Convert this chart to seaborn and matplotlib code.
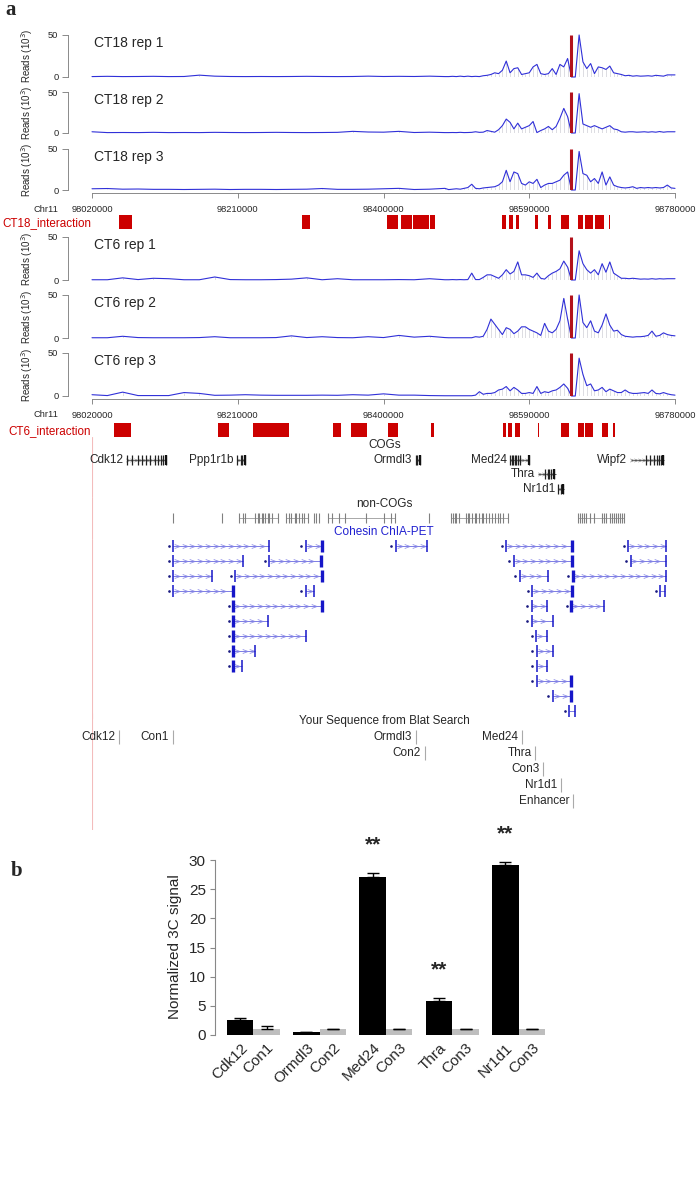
import numpy as np
import pandas as pd
import matplotlib
matplotlib.use("Agg")
import matplotlib.pyplot as plt
import seaborn as sns

W, H = 697, 1188

# ---------------- data ----------------
# bins (kb on chr11) of the read tracks
bin_kb = [98020, 98040, 98060, 98080, 98100, 98120, 98140, 98160, 98180, 98200,
          98220, 98240, 98260, 98280, 98300, 98320, 98340, 98360, 98380, 98400,
          98420, 98440, 98460, 98480,
          98485, 98490, 98495, 98500, 98505, 98510, 98515, 98520, 98525, 98530,
          98535, 98540, 98545, 98550, 98555, 98560, 98565, 98570, 98575, 98580,
          98585, 98590, 98595, 98600, 98605, 98610, 98615, 98620, 98625, 98630,
          98635, 98640, 98645, 98650, 98655, 98660, 98665, 98670, 98675, 98680,
          98685, 98690, 98695, 98700, 98705, 98710, 98715, 98720, 98725, 98730,
          98735, 98740, 98745, 98750, 98755, 98760, 98765, 98770, 98775, 98780]

ct18_rep1 = [0.5, 0.8, 0.5, 0.6, 0.8, 0.5, 0.6, 2.2, 1.0, 0.6, 0.5, 0.6, 0.5, 0.6, 0.8, 0.6,
             0.5, 0.6, 1.0, 0.6, 0.8, 0.6, 1.0, 0.5,
             0.5, 0.8, 0.5, 1.0, 0.5, 1.0, 0.5, 0.8, 0.5, 1.5, 2.0, 3.0, 5.0, 4.0, 8.0,
             19.0, 5.0, 10.0, 11.0, 3.0, 4.0, 5.0, 12.0, 15.0, 4.0, 3.0, 4.0, 10.0, 3.0,
             15.0, 12.0, 22.0, 0.0, 0.0, 50.0, 18.0, 10.0, 16.0, 4.0, 12.0, 11.0, 9.0,
             13.0, 5.0, 4.0, 3.0, 1.5, 2.0, 1.0, 1.5, 1.0, 1.2, 1.5, 1.0, 2.0, 1.5, 1.0,
             2.5, 2.5, 2.5]
ct18_rep2 = [1.5, 0.5, 0.6, 0.5, 0.8, 0.5, 0.6, 0.5, 0.8, 0.6, 0.5, 0.6, 0.8, 0.6, 0.5, 0.6,
             0.8, 2.0, 1.2, 1.0, 2.0, 0.6, 1.0, 0.5,
             0.5, 0.6, 0.5, 0.8, 0.5, 0.6, 0.8, 1.5, 0.8, 1.0, 3.0, 2.0, 1.0, 4.0, 9.0,
             17.0, 13.0, 5.0, 12.0, 5.0, 7.0, 9.0, 14.0, 0.5, 3.0, 5.0, 8.0, 4.0, 8.0,
             18.0, 30.0, 20.0, 0.0, 0.0, 48.0, 11.0, 9.0, 7.0, 9.0, 7.0, 5.0, 7.0, 9.0,
             5.0, 4.0, 1.5, 1.0, 1.5, 1.5, 1.0, 1.2, 1.5, 1.0, 1.5, 1.0, 1.8, 1.0, 1.5,
             1.5, 1.5]
ct18_rep3 = [1.5, 1.8, 1.0, 1.2, 0.8, 0.8, 0.6, 0.8, 1.0, 0.6, 0.8, 0.8, 0.6, 0.8, 1.0, 1.8,
             0.8, 0.8, 1.0, 1.5, 2.0, 0.6, 1.0, 2.0,
             0.5, 1.0, 1.5, 1.0, 2.0, 3.0, 7.0, 2.0, 1.5, 2.5, 3.0, 3.5, 4.0, 6.0, 10.0,
             24.0, 10.0, 22.0, 20.0, 8.0, 6.0, 10.0, 8.0, 13.0, 3.0, 6.0, 8.0, 8.0, 10.0,
             12.0, 18.0, 22.0, 0.0, 0.0, 47.0, 20.0, 18.0, 10.0, 14.0, 8.0, 22.0, 6.0,
             16.0, 6.0, 4.0, 3.0, 2.5, 3.0, 4.0, 2.0, 3.0, 2.5, 3.0, 2.5, 3.0, 2.5, 3.0,
             6.0, 2.5, 2.0]
ct6_rep1 = [0.3, 0.3, 2.5, 0.5, 2.0, 1.5, 0.3, 0.3, 3.5, 0.5, 0.3, 0.3, 0.5, 1.0, 2.5, 0.3,
            1.5, 0.3, 0.3, 0.3, 0.5, 0.3, 1.5, 0.3,
            0.3, 0.5, 0.3, 0.5, 0.3, 0.5, 8.0, 0.5, 0.5, 3.0, 6.0, 6.0, 4.0, 2.0, 6.0,
            12.0, 7.0, 10.0, 21.0, 6.0, 6.0, 5.0, 3.0, 8.0, 2.0, 1.0, 5.0, 8.0, 10.0,
            13.0, 22.0, 15.0, 0.0, 0.0, 34.0, 19.0, 12.0, 8.0, 12.0, 6.0, 19.0, 9.0,
            21.0, 8.0, 5.0, 2.0, 2.0, 1.5, 2.0, 1.5, 1.0, 1.2, 1.0, 1.5, 1.0, 1.5, 1.2,
            1.5, 1.5, 1.5]
ct6_rep2 = [0.3, 0.3, 2.0, 0.5, 0.3, 0.3, 0.3, 0.5, 1.5, 0.3, 0.3, 0.3, 0.5, 2.5, 0.5, 1.5,
            0.5, 0.3, 1.5, 0.5, 3.0, 1.0, 2.0, 0.5,
            0.3, 0.3, 0.3, 0.3, 0.3, 0.3, 0.3, 1.5, 1.0, 2.0, 10.0, 22.0, 16.0, 10.0, 4.0,
            12.0, 10.0, 5.0, 8.0, 13.0, 13.0, 10.0, 8.0, 6.0, 3.0, 17.0, 8.0, 6.0, 10.0,
            20.0, 46.0, 22.0, 0.0, 0.0, 50.0, 18.0, 12.0, 20.0, 8.0, 6.0, 15.0, 28.0,
            15.0, 8.0, 9.0, 4.0, 2.0, 1.5, 1.0, 1.5, 1.5, 2.0, 3.0, 8.0, 2.0, 3.0, 6.0,
            4.0, 3.0, 2.5]
ct6_rep3 = [1.5, 0.5, 4.5, 0.5, 0.5, 0.5, 4.0, 3.0, 0.8, 1.0, 1.5, 1.0, 0.8, 0.8, 0.8, 1.0,
            0.8, 1.5, 1.0, 2.5, 1.0, 1.0, 0.5, 0.3,
            0.3, 0.3, 0.3, 0.3, 0.3, 0.3, 0.3, 1.0, 5.0, 2.0, 3.0, 3.0, 4.0, 7.0, 8.0,
            11.0, 6.0, 10.0, 7.0, 3.0, 3.0, 4.0, 3.0, 11.0, 3.0, 5.0, 4.0, 6.0, 7.0,
            10.0, 14.0, 9.0, 0.0, 0.0, 44.0, 25.0, 12.0, 14.0, 6.0, 7.0, 10.0, 5.0,
            8.0, 6.0, 4.0, 4.0, 7.0, 4.0, 3.0, 3.0, 3.5, 4.0, 3.0, 7.0, 3.0, 2.5, 4.0,
            2.5, 1.5, 1.0]

bait_kb = 98645
axis_ticks_kb = [98020, 98210, 98400, 98590, 98780]

ct18_blocks = [(98055, 98072), (98294, 98304), (98404, 98419), (98423, 98437),
               (98438, 98447), (98448, 98459), (98460, 98467), (98555, 98560),
               (98563, 98569), (98573, 98577), (98598, 98602), (98615, 98619),
               (98632, 98642), (98654, 98660), (98663, 98673), (98676, 98688),
               (98694, 98695)]
ct6_blocks = [(98049, 98071), (98184, 98198), (98230, 98277), (98334, 98345),
              (98358, 98378), (98406, 98419), (98462, 98466), (98556, 98560),
              (98562, 98567), (98572, 98578), (98602, 98603), (98632, 98642),
              (98654, 98662), (98663, 98673), (98685, 98693), (98699, 98702)]

# COG genes: name, row, start, end, exons (kb)
cog_names = ["Cdk12", "Ppp1r1b", "Ormdl3", "Med24", "Thra", "Nr1d1", "Wipf2"]
cog_rows = [0, 0, 0, 0, 1, 2, 0]
cog_start = [98065, 98209, 98442, 98565, 98602, 98628, 98722]
cog_end = [98116, 98220, 98447, 98590, 98625, 98635, 98766]
cog_exons = [[98065, 98072, 98080, 98085, 98091, 98095, 98102, 98106, 98110, 98113, 98116],
             [98209, 98214, 98216, 98220],
             [98442, 98444, 98447],
             [98565, 98567, 98569, 98571, 98573, 98575, 98578, 98590],
             [98610, 98614, 98616, 98619, 98622],
             [98628, 98631, 98634],
             [98742, 98747, 98753, 98756, 98759, 98762, 98765]]

noncog_segments = [(98212, 98262), (98273, 98301), (98328, 98415), (98488, 98562),
                   (98654, 98713)]
noncog_exons = [98125, 98189, 98212, 98217, 98220, 98233, 98236, 98238, 98241, 98243,
                98246, 98249, 98251, 98255, 98262, 98273, 98277, 98280, 98284, 98286,
                98290, 98294, 98297, 98301, 98310, 98312, 98316, 98328, 98333, 98342,
                98350, 98377, 98401, 98410, 98415, 98459, 98488, 98490, 98493, 98495,
                98498, 98507, 98510, 98512, 98515, 98519, 98521, 98524, 98528, 98530,
                98534, 98537, 98542, 98546, 98549, 98552, 98556, 98562, 98654, 98656,
                98659, 98662, 98664, 98669, 98675, 98685, 98688, 98690, 98695, 98698,
                98700, 98703, 98706, 98708, 98711, 98713]

# Cohesin ChIA-PET links
chia_row = [0, 0, 0, 0, 0, 1, 1, 1, 1, 2, 2, 2, 2, 3, 3, 3, 3, 4, 4, 4,
            5, 5, 6, 6, 7, 7, 8, 8, 9, 10, 11]
chia_start = [98126, 98299, 98416, 98560, 98719, 98126, 98251, 98570, 98722,
              98126, 98207, 98578, 98647, 98126, 98299, 98594, 98761,
              98204, 98593, 98645, 98204, 98593, 98204, 98599, 98204, 98600,
              98204, 98600, 98600, 98621, 98642]
chia_end = [98251, 98320, 98457, 98646, 98768, 98217, 98318, 98646, 98768,
            98177, 98320, 98615, 98768, 98204, 98309, 98646, 98767,
            98320, 98613, 98687, 98250, 98621, 98299, 98613, 98233, 98621,
            98216, 98613, 98645, 98645, 98650]
chia_hubs = [98204, 98320, 98646]

blat_names = ["Cdk12", "Con1", "Ormdl3", "Con2", "Med24", "Thra", "Con3", "Nr1d1", "Enhancer"]
blat_kb = [98055, 98125, 98442, 98454, 98580, 98598, 98608, 98632, 98647]
blat_rows = [0, 0, 0, 1, 0, 1, 2, 3, 4]

# panel b: normalized 3C signal
pair_targets = ["Cdk12", "Ormdl3", "Med24", "Thra", "Nr1d1"]
pair_controls = ["Con1", "Con2", "Con3", "Con3", "Con3"]
target_signal = [2.6, 0.45, 27.15, 5.9, 29.1]
target_err = [0.4, 0.1, 0.65, 0.4, 0.5]
control_signal = [1.0, 1.0, 1.0, 1.0, 1.0]
control_err = [0.5, 0.08, 0.06, 0.06, 0.06]
stars = ["", "", "**", "**", "**"]

# ---------------- drawing ----------------
sns.set_theme(style="ticks")
plt.rcParams["font.family"] = ["Liberation Sans", "DejaVu Sans"]

fig = plt.figure(figsize=(W / 100, H / 100), dpi=100)

X0, X1 = 92, 675
KB = (98020, 98780)
BLUE = "#3030d8"
RED = "#cc0000"


def add_ax(left, top, width, height):
    return fig.add_axes([left / W, 1 - (top + height) / H, width / W, height / H])


def fig_text(x, y, s, **kw):
    fig.text(x / W, 1 - y / H, s, **kw)


fig_text(5, 15, "a", fontfamily="Liberation Serif", fontweight="bold", fontsize=15,
         va="baseline")

tracks = [("CT18 rep 1", ct18_rep1, 35, 77, False),
          ("CT18 rep 2", ct18_rep2, 92, 133, False),
          ("CT18 rep 3", ct18_rep3, 149, 190, True),
          ("CT6 rep 1", ct6_rep1, 237, 280, False),
          ("CT6 rep 2", ct6_rep2, 295, 338, False),
          ("CT6 rep 3", ct6_rep3, 353, 396, True)]

for name, vals, ytop, ybot, show_x in tracks:
    ax = add_ax(X0, ytop, X1 - X0, ybot - ytop)
    ax.set_xlim(*KB)
    ax.set_ylim(0, 50)
    ax.patch.set_alpha(0)
    hx = [b for b, v in zip(bin_kb, vals) if v > 1.5]
    hv = [v for v in vals if v > 1.5]
    ax.vlines(hx, 0, hv, color="#cfcfd6", lw=0.5)
    sns.lineplot(x=bin_kb, y=vals, ax=ax, color=BLUE, lw=0.8, clip_on=False)
    ax.vlines(bait_kb, 0, 50, color="#b3121c", lw=2.2)
    ax.text(0.004, 0.81, name, transform=ax.transAxes, fontsize=10, va="center")
    for s in ["top", "right"]:
        ax.spines[s].set_visible(False)
    ax.spines["left"].set_position(("outward", 17.3))
    ax.spines["left"].set_bounds(0, 50)
    ax.spines["left"].set_color("#777777")
    ax.spines["left"].set_linewidth(0.6)
    ax.set_yticks([0, 50])
    ax.tick_params(axis="y", direction="out", length=4.3, width=0.6, color="#777777",
                   labelsize=6.7, pad=2.5)
    ax.set_xlabel("")
    ax.set_ylabel("")
    fig_text(27, (ytop + ybot) / 2, "Reads (10$^3$)", rotation=90, ha="center",
             va="center", fontsize=7)
    if show_x:
        ax.spines["bottom"].set_position(("outward", 2.2))
        ax.spines["bottom"].set_bounds(*KB)
        ax.spines["bottom"].set_color("#777777")
        ax.spines["bottom"].set_linewidth(0.6)
        ax.set_xticks(axis_ticks_kb, [f"{t}000" for t in axis_ticks_kb])
        ax.tick_params(axis="x", direction="out", length=3.6, width=0.6,
                       color="#777777", labelsize=6.7, pad=5)
        fig_text(58, ybot + 19, "Chr11", ha="right", va="center", fontsize=6.7)
    else:
        ax.spines["bottom"].set_visible(False)
        ax.set_xticks([])

# interaction tracks
for label, blocks, top, hgt in [("CT18_interaction", ct18_blocks, 215, 14),
                                ("CT6_interaction", ct6_blocks, 423, 14)]:
    ax = add_ax(X0, top, X1 - X0, hgt)
    ax.set_xlim(*KB)
    ax.set_ylim(0, 1)
    ax.broken_barh([(a, b - a) for a, b in blocks], (0, 1), color=RED, lw=0)
    ax.axis("off")
    fig_text(91, top + hgt / 2 + 1, label, ha="right", va="center", fontsize=8.4, color=RED)

PINK = "#f3bcbc"


def chevrons(ax, row, a, b, step, color, ms=3):
    xs = np.arange(a + step / 2, b - step / 3, step)
    ax.plot(xs, [row] * len(xs), ls="none", marker=r"$>$", ms=ms, color=color, mew=0)


# COG genes
ax = add_ax(X0, 437, X1 - X0, 60)
ax.set_xlim(*KB)
ax.set_ylim(2.55, -1.55)
ax.axis("off")
ax.axvline(98020, color=PINK, lw=0.8)
ax.text(98401, -1, "COGs", ha="center", va="center", fontsize=8.5)
for name, row, a, b, ex in zip(cog_names, cog_rows, cog_start, cog_end, cog_exons):
    ax.hlines(row, a, b, color="#333333", lw=0.6)
    chevrons(ax, row, a, b, 5, "#777777", ms=3.2)
    ax.vlines(ex, row - 0.35, row + 0.35, color="#222222", lw=0.9)
    ax.vlines(ex[-1], row - 0.35, row + 0.35, color="#111111", lw=1.6)
    ax.text(a - 4.5, row, name, ha="right", va="center", fontsize=8.5)

# non-COG genes
ax = add_ax(X0, 497, X1 - X0, 42)
ax.set_xlim(*KB)
ax.set_ylim(1.5, -1.5)
ax.axis("off")
ax.axvline(98020, color=PINK, lw=0.8)
ax.text(98401, -1, "non-COGs", ha="center", va="center", fontsize=8.5)
ax.hlines([0] * len(noncog_segments), [a for a, b in noncog_segments],
          [b for a, b in noncog_segments], color="#9a9a9a", lw=0.6)
ax.vlines(noncog_exons, -0.35, 0.35, color="#808080", lw=0.8)
ax.text(98401, 1, "Cohesin ChIA-PET", ha="center", va="center", fontsize=8.5, color="#2020d0")

# ChIA-PET links
ax = add_ax(X0, 538.5, X1 - X0, 180)
ax.set_xlim(*KB)
ax.set_ylim(11.5, -0.5)
ax.axis("off")
ax.axvline(98020, color=PINK, lw=0.8)
for row, a, b in zip(chia_row, chia_start, chia_end):
    ax.hlines(row, a, b, color="#7c7ce4", lw=0.7)
    chevrons(ax, row, a, b, 10, "#8484e6", ms=4.0)
    ax.plot([a - 6], [row], ls="none", marker=".", ms=1.8, color="#1a1a80")
    for p in (a, b):
        hub = min(abs(p - h) for h in chia_hubs) <= 2
        ax.vlines(p, row - 0.4, row + 0.4, color="#1616c8", lw=2.4 if hub else 1.1)

# Blat search
ax = add_ax(X0, 713, X1 - X0, 117)
ax.set_xlim(*KB)
ax.set_ylim(5.8, -1.5)
ax.axis("off")
ax.axvline(98020, color=PINK, lw=0.8)
ax.text(98401, -1, "Your Sequence from Blat Search", ha="center", va="center", fontsize=8.5)
for name, p, row in zip(blat_names, blat_kb, blat_rows):
    ax.vlines(p, row - 0.42, row + 0.42, color="#aaaaaa", lw=0.8)
    ax.text(p - 5, row, name, ha="right", va="center", fontsize=8.5)

# ---------------- panel b ----------------
fig_text(11, 876, "b", fontfamily="Liberation Serif", fontweight="bold", fontsize=15,
         va="baseline")

df = pd.DataFrame({
    "pair": pair_targets + pair_targets,
    "kind": ["target"] * len(pair_targets) + ["control"] * len(pair_targets),
    "signal": target_signal + control_signal,
})

axb = add_ax(215, 860, 336, 175)
sns.barplot(data=df, x="pair", y="signal", hue="kind", order=pair_targets,
            hue_order=["target", "control"],
            palette={"target": "black", "control": "#bebebe"},
            width=0.8, errorbar=None, saturation=1, linewidth=0, legend=False, ax=axb)
idx = np.arange(len(pair_targets))
axb.errorbar(idx - 0.2, target_signal, yerr=[np.zeros(len(idx)), target_err], fmt="none",
             ecolor="black", elinewidth=1, capsize=4.3, capthick=1)
axb.errorbar(idx + 0.2, control_signal, yerr=[np.zeros(len(idx)), control_err], fmt="none",
             ecolor="black", elinewidth=1, capsize=4.3, capthick=1)
for i, s in enumerate(stars):
    if s:
        axb.text(i - 0.2, target_signal[i] + target_err[i] + 4.8, s, ha="center",
                 va="center", fontsize=15, fontweight="bold", clip_on=False)
axb.set_xlim(-0.58, 4.49)
axb.set_ylim(0, 30)
axb.set_yticks([0, 5, 10, 15, 20, 25, 30])
ticks = []
labels = []
for i in idx:
    ticks += [i - 0.2, i + 0.2]
    labels += [pair_targets[i], pair_controls[i]]
axb.set_xticks(ticks, labels, rotation=45, ha="right", rotation_mode="anchor")
axb.tick_params(axis="x", length=0, labelsize=11, pad=4)
axb.tick_params(axis="y", direction="out", length=3.6, width=0.8, color="#888888",
                labelsize=11, pad=3)
for s in ["top", "right", "bottom"]:
    axb.spines[s].set_visible(False)
axb.spines["left"].set_bounds(0, 30)
axb.spines["left"].set_color("#888888")
axb.spines["left"].set_linewidth(0.8)
axb.set_xlabel("")
axb.set_ylabel("")
fig_text(175, 947, "Normalized 3C signal", rotation=90, ha="center", va="center",
         fontsize=11)

fig.savefig("out.png", dpi=100)
